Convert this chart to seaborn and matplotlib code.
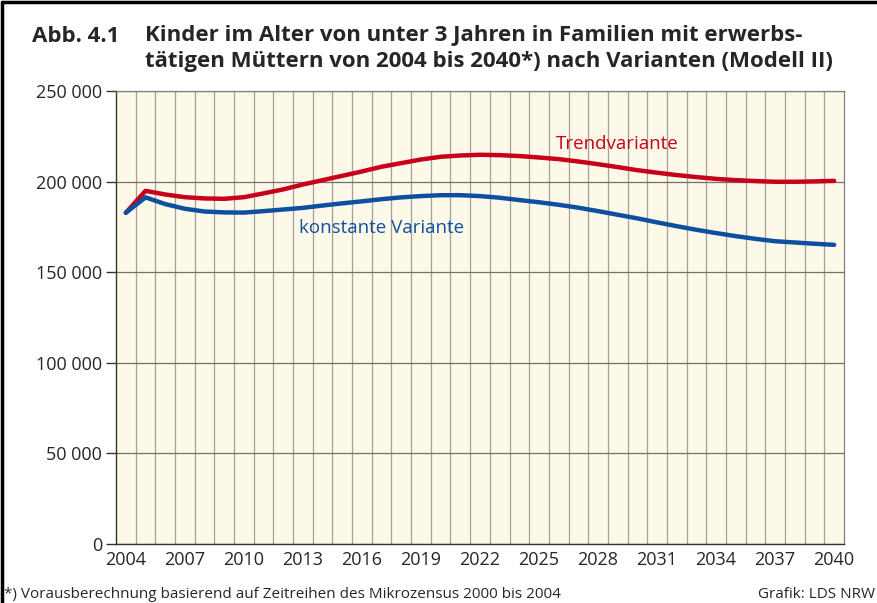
import matplotlib
matplotlib.use("Agg")
import matplotlib.pyplot as plt
from matplotlib.lines import Line2D
from matplotlib.ticker import FixedLocator, FuncFormatter
import numpy as np
import pandas as pd
import seaborn as sns

# Kinder unter 3 Jahren in Familien mit erwerbstaetigen Muettern (Modell II)
years = list(range(2004, 2041))
trend = [182800, 194900, 192900, 191400, 190700, 190500, 191400, 193500, 195700,
         198400, 200800, 203200, 205600, 208200, 210200, 212200, 213700, 214400,
         214800, 214600, 214100, 213300, 212400, 211100, 209600, 208000, 206300,
         204900, 203600, 202500, 201500, 200800, 200300, 199900, 199900, 200100,
         200400]
konstant = [182800, 191300, 187600, 185000, 183500, 183000, 182900, 183700, 184600,
            185500, 186800, 188000, 189100, 190300, 191300, 192000, 192500, 192500,
            192000, 191100, 189800, 188600, 187200, 185600, 183700, 181700, 179700,
            177500, 175400, 173400, 171600, 169900, 168400, 167100, 166400, 165700,
            165100]
series_names = ["Trendvariante", "konstante Variante"]
x_tick_years = list(range(2004, 2041, 3))
y_ticks = [0, 50000, 100000, 150000, 200000, 250000]

RED = "#c8001a"
BLUE = "#0f4fa0"

df = pd.DataFrame({
    "Jahr": years * 2,
    "Kinder": trend + konstant,
    "Variante": [series_names[0]] * len(years) + [series_names[1]] * len(years),
})

sns.set_style("ticks")
plt.rcParams["font.family"] = ["Open Sans", "DejaVu Sans"]

fig = plt.figure(figsize=(8.77, 6.03), dpi=100)
ax = fig.add_axes([116 / 877, 59 / 603, 728 / 877, 453 / 603])
ax.set_facecolor("#fdf9e8")

sns.lineplot(data=df, x="Jahr", y="Kinder", hue="Variante",
             palette={series_names[0]: RED, series_names[1]: BLUE},
             linewidth=3.2, legend=False, ax=ax, zorder=3)

ax.set_xlim(2003.5, 2040.5)
ax.set_ylim(0, 250000)
ax.xaxis.set_major_locator(FixedLocator(x_tick_years))
ax.xaxis.set_minor_locator(FixedLocator([y + 0.5 for y in years[:-1]]))
ax.yaxis.set_major_locator(FixedLocator(y_ticks))
ax.yaxis.set_major_formatter(FuncFormatter(lambda v, p: f"{int(v):,}".replace(",", " ")))

ax.grid(which="minor", axis="x", color="#8a8a8a", linewidth=0.9, alpha=0.8, zorder=1)
ax.grid(which="major", axis="y", color="#707070", linewidth=0.9, zorder=1)
ax.grid(which="major", axis="x", visible=False)
ax.set_axisbelow(True)

ax.tick_params(axis="x", which="both", length=0, labelsize=13, pad=5)
ax.tick_params(axis="y", length=7, width=1, color="#333333", labelsize=13, pad=3)
for side in ["top", "right"]:
    ax.spines[side].set_color("#808080")
    ax.spines[side].set_linewidth(0.9)
for side in ["left", "bottom"]:
    ax.spines[side].set_color("#333333")
    ax.spines[side].set_linewidth(1.0)
ax.set_xlabel("")
ax.set_ylabel("")

ax.text(2029.0, 220700, "Trendvariante", color=RED, fontsize=13.5,
        ha="center", va="center", zorder=4)
ax.text(2017.0, 174300, "konstante Variante", color=BLUE, fontsize=13.5,
        ha="center", va="center", zorder=4)

fig.text(32 / 877, 1 - 36 / 603, "Abb. 4.1", fontsize=16, fontweight="bold",
         ha="left", va="center")
fig.text(145 / 877, 1 - 36 / 603, "Kinder im Alter von unter 3 Jahren in Familien mit erwerbs-",
         fontsize=16, fontweight="bold", ha="left", va="center")
fig.text(145 / 877, 1 - 61 / 603, "tätigen Müttern von 2004 bis 2040*) nach Varianten (Modell II)",
         fontsize=16, fontweight="bold", ha="left", va="center")

fig.text(4 / 877, 1 - 594 / 603,
         "*) Vorausberechnung basierend auf Zeitreihen des Mikrozensus 2000 bis 2004",
         fontsize=11, ha="left", va="center")
fig.text(875 / 877, 1 - 594 / 603, "Grafik: LDS NRW", fontsize=11,
         ha="right", va="center")

# frame of the figure (left and top edge)
fig.add_artist(Line2D([2 / 877, 2 / 877], [0, 1 - 2 / 603], color="black",
                      linewidth=2.5, transform=fig.transFigure))
fig.add_artist(Line2D([2 / 877, 1], [1 - 2 / 603, 1 - 2 / 603], color="black",
                      linewidth=2.5, transform=fig.transFigure))

fig.savefig("out.png", dpi=100)
plt.close(fig)
